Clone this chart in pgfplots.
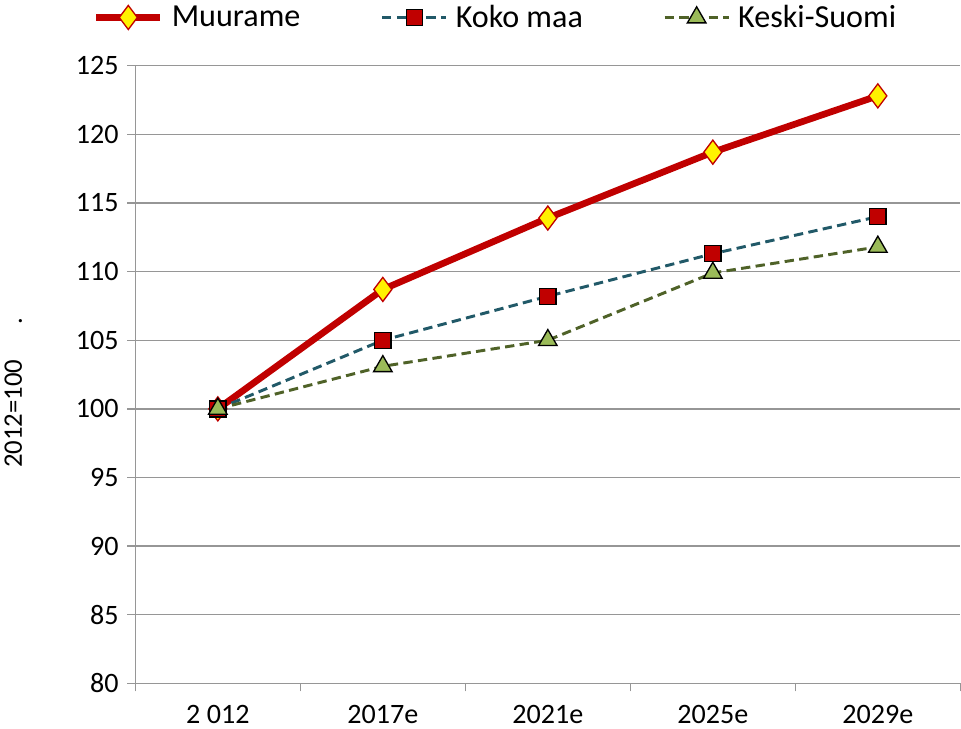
\documentclass[border=0pt]{standalone}
\usepackage{pgfplots}
\pgfplotsset{compat=1.18}
\usepackage{fontspec}
\setmainfont{Carlito}
\definecolor{muured}{RGB}{192,0,0}
\definecolor{kokoteal}{RGB}{33,89,104}
\definecolor{keskiolive}{RGB}{79,98,40}
\definecolor{keskigreen}{RGB}{155,187,89}
\definecolor{gridgray}{RGB}{150,150,150}

\begin{document}
\begin{tikzpicture}
\begin{axis}[scale only axis, width=617pt, height=462pt,
  xmin=-0.5, xmax=4.5, ymin=80, ymax=125,
  xtick={0,1,2,3,4}, xticklabels={2 012,2017e,2021e,2025e,2029e},
  minor xtick={-0.5,0.5,1.5,2.5,3.5,4.5},
  major x tick style={draw=none},
  ytick={80,85,...,125},
  tick align=outside, major tick length=6pt, minor tick length=6pt,
  tick style={gridgray, line width=1pt},
  axis x line*=bottom, axis y line*=left,
  axis line style={gridgray, line width=1pt, -},
  ymajorgrids, major grid style={gridgray, line width=1pt},
  /pgf/number format/assume math mode=true,
  tick label style={font=\fontsize{21}{24}\selectfont},
  yticklabel style={xshift=-3pt},
  xticklabel style={yshift=-7pt},
  ylabel={2012=100\hspace{1.3em}.},
  ylabel style={at={(axis description cs:-0.148,0.47)}, anchor=center, font=\fontsize{20}{23}\selectfont},
  legend columns=3,
  legend style={draw=none, fill=none, at={(axis description cs:0.437,1.078)}, anchor=center,
    font=\fontsize{24}{27}\selectfont,
    /tikz/every odd column/.append style={column sep=4pt},
    /tikz/every even column/.append style={column sep=58pt}},
  legend image code/.code={\draw[mark repeat=2, mark phase=2, #1] plot coordinates {(0pt,0pt)(24pt,0pt)(48pt,0pt)};},
  clip=false]
\addplot[muured, line width=5pt, mark=diamond*, mark size=9pt, mark options={solid, fill=yellow, draw=muured, line width=1pt}]
  coordinates {(0,100)(1,108.7)(2,113.9)(3,118.7)(4,122.8)};
\addlegendentry{Muurame}
\addplot[kokoteal, line width=2.2pt, dash pattern=on 7pt off 4pt, mark=square*, mark size=6pt, mark options={solid, fill=muured, draw=black, line width=1pt}]
  coordinates {(0,100)(1,105.0)(2,108.2)(3,111.3)(4,114.0)};
\addlegendentry{Koko maa}
\addplot[keskiolive, line width=2.2pt, dash pattern=on 7pt off 4pt, mark=triangle*, mark size=8pt, mark options={solid, fill=keskigreen, draw=black, line width=1pt}]
  coordinates {(0,100)(1,103.1)(2,105.0)(3,109.9)(4,111.8)};
\addlegendentry{Keski-Suomi}
\end{axis}
\end{tikzpicture}
\end{document}
